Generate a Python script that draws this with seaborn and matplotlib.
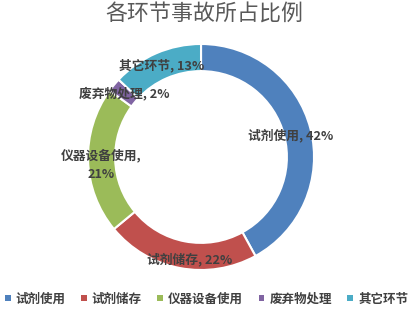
import matplotlib
matplotlib.use("Agg")
import matplotlib.pyplot as plt
import seaborn as sns
from matplotlib.patches import Patch

sns.set_theme(style="white")
plt.rcParams['font.family'] = ['Noto Sans CJK SC', 'DejaVu Sans']

categories = ["试剂使用", "试剂储存", "仪器设备使用", "废弃物处理", "其它环节"]
values = [42, 22, 21, 2, 13]
label_texts = ["试剂使用, 42%", "试剂储存, 22%", "仪器设备使用,\n21%", "废弃物处理, 2%", "其它环节, 13%"]
label_pos = [(0.79, 0.19), (-0.10, -0.91), (-0.88, -0.07), (-0.68, 0.56), (-0.35, 0.81)]
colors = ["#4F81BD", "#C0504D", "#9BBB59", "#8064A2", "#4BACC6"]
palette = sns.color_palette(colors)

fig = plt.figure(figsize=(4.09, 3.19), dpi=100)
fig.patch.set_facecolor("white")
ax = fig.add_axes([0.2152, 0.1536, 0.5526, 0.7085])
ax.pie(values, colors=palette, startangle=90, counterclock=False,
       wedgeprops=dict(width=0.24, edgecolor="white", linewidth=1.5))
ax.set_xlim(-1, 1)
ax.set_ylim(-1, 1)
ax.axis("off")

for txt, (x, y) in zip(label_texts, label_pos):
    ax.text(x, y, txt, ha="center", va="center", fontsize=9.2,
            color="#404040", fontweight="bold", linespacing=1.6)

fig.text(0.5, 1 - 15 / 319, "各环节事故所占比例", ha="center", va="center",
         fontsize=15.8, color="#595959")

handles = [Patch(facecolor=c, edgecolor="none") for c in palette]
fig.legend(handles, categories, loc="center", bbox_to_anchor=(0.505, 1 - 299 / 319),
           ncol=5, frameon=False, handlelength=0.45, handleheight=0.45,
           handletextpad=0.4, columnspacing=1.25, labelcolor="#404040",
           borderpad=0.1, borderaxespad=0.0,
           prop={'weight': 'bold', 'size': 9.0})

fig.savefig("out.png", dpi=100, facecolor="white")
